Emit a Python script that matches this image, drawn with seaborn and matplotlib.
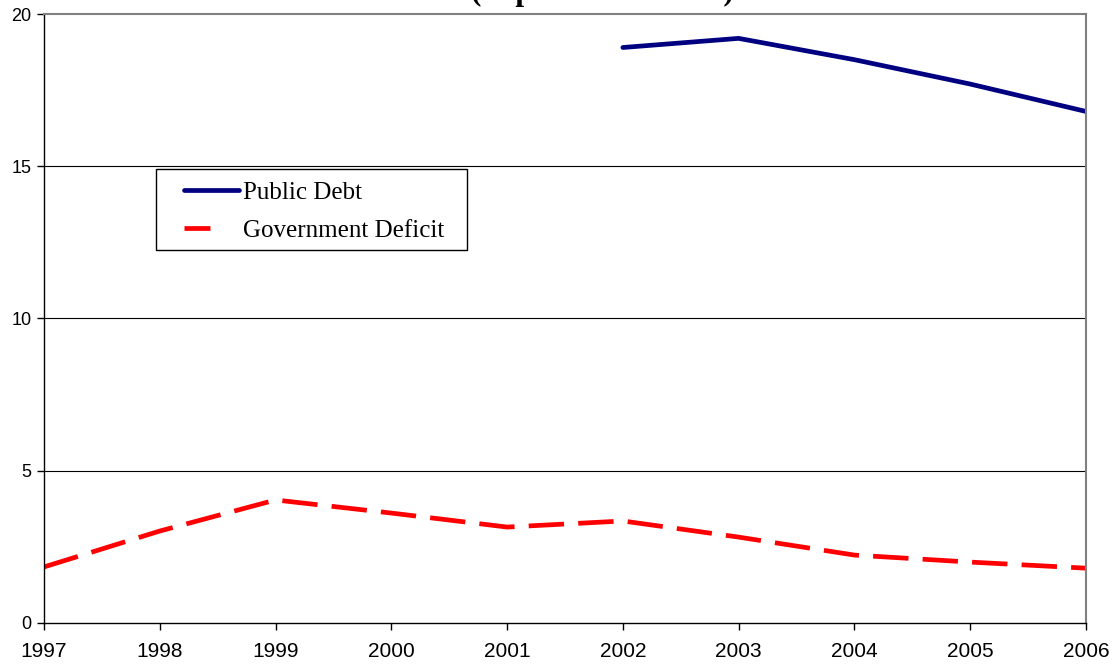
import matplotlib
matplotlib.use("Agg")
import matplotlib.pyplot as plt
from matplotlib.patches import Rectangle
import seaborn as sns
import numpy as np
import pandas as pd

years = [1997, 1998, 1999, 2000, 2001, 2002, 2003, 2004, 2005, 2006]
public_debt = [np.nan, np.nan, np.nan, np.nan, np.nan, 18.9, 19.2, 18.5, 17.7, 16.8]
gov_deficit = [1.84, 3.02, 4.04, 3.61, 3.15, 3.35, 2.82, 2.23, 2.0, 1.8]
y_ticks = [0, 5, 10, 15, 20]

df = pd.DataFrame({"Year": years, "Public Debt": public_debt, "Government Deficit": gov_deficit})

sns.set_style("white")
plt.rcParams["text.color"] = "black"
plt.rcParams["xtick.color"] = "black"
plt.rcParams["ytick.color"] = "black"
fig = plt.figure(figsize=(11.17, 6.67), dpi=100)
ax = fig.add_axes([0.0394, 0.066, 0.9328, 0.913])

sns.lineplot(data=df, x="Year", y="Public Debt", ax=ax, color="#000080", linewidth=3.4,
             label="Public Debt")
sns.lineplot(data=df, x="Year", y="Government Deficit", ax=ax, color="#ff0000", linewidth=3.4,
             label="Government Deficit")
ax.lines[1].set_dashes([7.5, 3.0])
ax.lines[0].set_solid_capstyle("round")

ax.set_xlim(1997, 2006)
ax.set_ylim(0, 20)
ax.set_xticks(years)
ax.set_yticks(y_ticks)
ax.set_xlabel("")
ax.set_ylabel("")
for v in [5, 10, 15]:
    ax.axhline(v, color="black", linewidth=0.8, zorder=0)

for s in ["left", "bottom"]:
    ax.spines[s].set_color("black")
    ax.spines[s].set_linewidth(1.0)
for s in ["top", "right"]:
    ax.spines[s].set_color("#808080")
    ax.spines[s].set_linewidth(1.5)

ax.tick_params(axis="both", direction="out", length=5, width=1, color="black",
               labelcolor="black", bottom=True, left=True)
ax.tick_params(axis="x", labelsize=15, pad=9)
ax.tick_params(axis="y", labelsize=13, pad=4)
for lab in ax.get_xticklabels() + ax.get_yticklabels():
    lab.set_family(["Liberation Sans", "DejaVu Sans"])

# legend box drawn separately so its padding matches the original
box = Rectangle((0.1075, 0.6125), 0.2985, 0.133, transform=ax.transAxes,
                facecolor="white", edgecolor="black", linewidth=1.0, zorder=4)
ax.add_patch(box)
leg = ax.legend(loc="upper left", bbox_to_anchor=(0.1273, 0.737), frameon=False,
                handlelength=2.2, handletextpad=0.15, borderpad=0.3, borderaxespad=0,
                labelspacing=0.6, prop={"family": "Liberation Serif", "size": 18})
leg.set_zorder(5)
for t in leg.get_texts():
    t.set_color("black")
leg.get_lines()[1].set_dashes([5.5, 20])

# title clipped at the top edge, as in the source picture
fig.text(0.5394, 1.0005, "(in percent of GDP)", ha="center", va="baseline",
         fontsize=22.5, fontweight="bold", family="Liberation Serif", color="black")

fig.savefig("out.png", dpi=100)
